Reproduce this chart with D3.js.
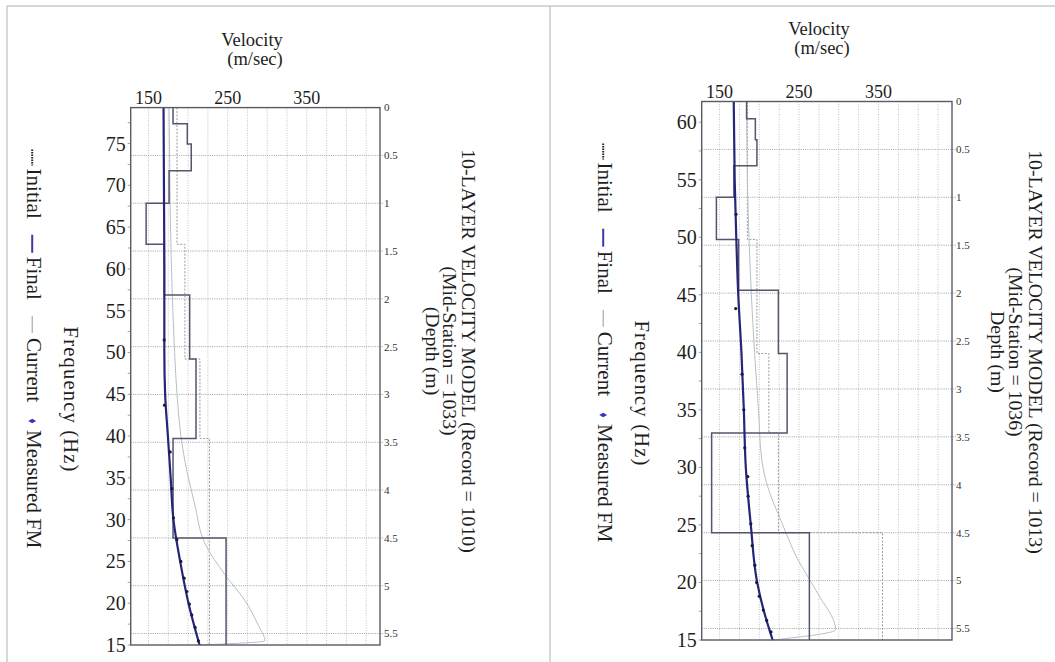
<!DOCTYPE html>
<html>
<head>
<meta charset="utf-8">
<script src="https://cdn.jsdelivr.net/npm/d3@7.9.0/dist/d3.min.js"></script>
<style>
  body { margin: 0; background: #fff; }
  svg, svg text { font-family: "Liberation Serif", "Times New Roman", Times, serif; }
</style>
</head>
<body>
<svg id="chart" width="1055" height="662" font-family="Liberation Serif, Times New Roman, serif"></svg>
<script>
// ---- Record 1010 (left panel) ----
const leftLayerTop = [0, 0.17, 0.38, 0.66, 1.0, 1.43, 1.96, 2.63, 3.46, 4.5];
const leftFinalVs = [181, 199, 204, 176, 147, 170, 202, 210, 181, 248];
const leftInitialVs = [186, 186, 186, 186, 186, 196, 196, 215, 227, 227];
const leftCurveFreq = [79.3, 70, 60, 55, 50, 45, 40, 35, 30, 25, 20, 15];
const leftFinalVel = [169, 169.5, 170, 170, 170, 171, 174.5, 178, 181.5, 190, 200.5, 214.5];
const leftCurrentFreq = [79.3, 70, 60, 50, 45, 40, 37, 32, 27, 23.5, 20.3, 17.5, 15.5, 15];
const leftCurrentVel = [176, 177, 179, 183, 186, 191, 196, 208, 222, 246, 272, 288, 297, 215];
const leftMeasFreq = [51.5, 43.7, 38.1, 33.7, 30.2, 27.6, 25, 23, 21.4, 19.9, 18.6, 17.1, 15.5];
const leftMeasVel = [169.8, 170.2, 177.4, 179.5, 181.5, 185.8, 190.9, 195, 198.4, 201.7, 204.7, 208.9, 213];

// ---- Record 1013 (right panel) ----
const rightLayerTop = [0, 0.18, 0.40, 0.67, 1.0, 1.44, 1.97, 2.63, 3.46, 4.5];
const rightFinalVs = [184, 195, 197, 168, 146, 174, 224, 235, 140, 263];
const rightInitialVs = [185, 185, 185, 185, 185, 197, 197, 212, 224, 355];
const rightCurveFreq = [61.8, 55, 50, 45, 40, 35, 30, 25, 20, 17.5, 15];
const rightFinalVel = [167.8, 169, 171, 173.5, 177.5, 180.5, 183, 189.3, 197.3, 205.8, 216.8];
const rightCurrentFreq = [61.8, 55, 50, 45, 40, 35, 30.7, 27.8, 25.6, 22.2, 19.1, 15.9, 15];
const rightCurrentVel = [184, 185, 187, 190, 194, 199, 203, 213, 226, 247, 273, 296, 217];
const rightMeasFreq = [52, 43.8, 38.1, 35, 31.7, 29.2, 27.5, 25.1, 23.2, 21.5, 20, 18.8, 17.6, 16.7, 15.7];
const rightMeasVel = [170.7, 170.3, 178.3, 180.5, 181.7, 185.5, 185.9, 189.3, 191, 194.4, 196.6, 199.9, 205, 209.3, 214.7];

// ---- shared axis values ----
const velTickLabels = [150, 250, 350];
const velGrid = d3.range(150, 426, 25);
const depthTicks = d3.range(0, 5.51, 0.5);
const legendNames = ["Initial", "Final", "Current", "Measured FM"];

const FONT = "Liberation Serif, Times New Roman, serif";
const svg = d3.select("#chart");

// page frame and separator
svg.append("path")
    .attr("d", "M7,662V6H1055M550,6V662")
    .attr("fill", "none")
    .attr("stroke", "#b0b0b0")
    .attr("stroke-width", 1);

function stepPoints(tops, vs, maxDepth) {
    let pts = [];
    vs.forEach((v, i) => {
        let bottom = i + 1 < tops.length ? tops[i + 1] : maxDepth;
        pts.push([v, tops[i]], [v, bottom]);
    });
    return pts;
}

function addText(g, size) {
    return g.append("text")
        .attr("font-family", FONT)
        .attr("font-size", size)
        .attr("fill", "#1e1e1e");
}

function drawPanel(p) {
    const g = svg.append("g");
    const maxDepth = 5.62;

    const x = d3.scaleLinear().domain([127.5, 442.5]).range([p.x0, p.x1]);
    const yF = d3.scaleLinear().domain([15, p.fTop]).range([p.y1, p.y0]);
    const yD = d3.scaleLinear().domain([0, maxDepth]).range([p.y0, p.y1]);

    // vertical velocity grid
    g.selectAll(".vgrid")
        .data(velGrid)
        .enter()
        .append("line")
        .attr("x1", d => x(d)).attr("x2", d => x(d))
        .attr("y1", p.y0).attr("y2", p.y1)
        .attr("stroke", "#b4b4b4")
        .attr("stroke-width", 0.8)
        .attr("stroke-dasharray", "1,1.5");

    // horizontal depth grid, running out to the right labels
    g.selectAll(".hgrid")
        .data(depthTicks.filter(d => d > 0))
        .enter()
        .append("line")
        .attr("x1", p.x0).attr("x2", p.x1 + 4)
        .attr("y1", d => yD(d)).attr("y2", d => yD(d))
        .attr("stroke", "#8a8a8a")
        .attr("stroke-width", 0.8)
        .attr("stroke-dasharray", "1,1.2");

    // depth labels (right)
    depthTicks.forEach(d => {
        addText(g, 11)
            .attr("x", p.x1 + 4)
            .attr("y", yD(d))
            .attr("dy", "0.35em")
            .attr("fill", "#333")
            .text(d3.format("~g")(d));
    });

    // frequency minor ticks and labels (left)
    const fTicks = d3.range(15, p.fTop, 2.5);
    g.selectAll(".ftick")
        .data(fTicks)
        .enter()
        .append("line")
        .attr("x1", p.x0 - 3).attr("x2", p.x0)
        .attr("y1", d => yF(d)).attr("y2", d => yF(d))
        .attr("stroke", "#888")
        .attr("stroke-width", 0.8);

    fTicks.filter(d => d % 5 === 0).forEach(d => {
        addText(g, 20)
            .attr("x", p.x0 - 5)
            .attr("y", yF(d))
            .attr("dy", "0.35em")
            .attr("text-anchor", "end")
            .text(d);
    });

    // velocity labels (top)
    velTickLabels.forEach(d => {
        addText(g, 18)
            .attr("x", x(d))
            .attr("y", p.y0 - 4)
            .attr("text-anchor", "middle")
            .text(d);
    });

    addText(g, 18.5)
        .attr("x", p.velTitleX).attr("y", p.velTitleY)
        .attr("text-anchor", "middle")
        .text("Velocity");
    addText(g, 18.5)
        .attr("x", p.velTitleX + 3).attr("y", p.velTitleY + 19)
        .attr("text-anchor", "middle")
        .text("(m/sec)");

    // initial model (dotted step)
    const stepLine = d3.line().x(d => x(d[0])).y(d => yD(d[1]));
    g.append("path")
        .attr("d", stepLine(stepPoints(p.layerTop, p.initialVs, maxDepth)))
        .attr("fill", "none")
        .attr("stroke", "#9a9a9a")
        .attr("stroke-width", 1)
        .attr("stroke-dasharray", "2,1.5");

    // current dispersion curve
    const curve = d3.line()
        .x(d => x(d[1]))
        .y(d => yF(d[0]))
        .curve(d3.curveMonotoneY);
    g.append("path")
        .attr("d", curve(d3.zip(p.currentFreq, p.currentVel)))
        .attr("fill", "none")
        .attr("stroke", "#b2c2ca")
        .attr("stroke-width", 1);

    // final model (step)
    g.append("path")
        .attr("d", stepLine(stepPoints(p.layerTop, p.finalVs, maxDepth)))
        .attr("fill", "none")
        .attr("stroke", "#55556e")
        .attr("stroke-width", 1.5);

    // final dispersion curve
    g.append("path")
        .attr("d", curve(d3.zip(p.curveFreq, p.finalVel)))
        .attr("fill", "none")
        .attr("stroke", "#25257a")
        .attr("stroke-width", 2.2);

    // measured points
    g.selectAll(".meas")
        .data(d3.zip(p.measFreq, p.measVel))
        .enter()
        .append("circle")
        .attr("cx", d => x(d[1]))
        .attr("cy", d => yF(d[0]))
        .attr("r", 1.6)
        .attr("fill", "#1a1a40");

    // plot frame
    g.append("rect")
        .attr("x", p.x0).attr("y", p.y0)
        .attr("width", p.x1 - p.x0).attr("height", p.y1 - p.y0)
        .attr("fill", "none")
        .attr("stroke", "#5a5a66")
        .attr("stroke-width", 1.4);

    // frequency axis title (rotated)
    addText(g, 20.5)
        .attr("transform", `translate(${p.x0 - 67},${p.y0 + 292}) rotate(90)`)
        .attr("text-anchor", "middle")
        .attr("letter-spacing", 1.2)
        .text("Frequency (Hz)");

    // chart title (rotated, three lines)
    p.titleLines.forEach((t, i) => {
        addText(g, 19.8)
            .attr("transform", `translate(${p.titleX[i]},${p.titleY}) rotate(90)`)
            .attr("text-anchor", "middle")
            .text(t);
    });

    // legend (rotated)
    const lg = g.append("g")
        .attr("transform", `translate(${p.x0 - 104},${p.y0 + 42}) rotate(90)`);
    let pos = 0;
    legendNames.forEach((name, i) => {
        if (i === 0) {
            lg.append("line")
                .attr("x1", pos).attr("x2", pos + 16)
                .attr("y1", -5.5).attr("y2", -5.5)
                .attr("stroke", "#222").attr("stroke-width", 2)
                .attr("stroke-dasharray", "1.5,1");
            pos += 19;
        } else if (i === 1) {
            lg.append("line")
                .attr("x1", pos).attr("x2", pos + 18)
                .attr("y1", -5.5).attr("y2", -5.5)
                .attr("stroke", "#3a3aa0").attr("stroke-width", 2);
            pos += 22;
        } else if (i === 2) {
            lg.append("line")
                .attr("x1", pos).attr("x2", pos + 17)
                .attr("y1", -5.5).attr("y2", -5.5)
                .attr("stroke", "#999").attr("stroke-width", 1);
            pos += 22;
        } else {
            lg.append("path")
                .attr("d", d3.symbol(d3.symbolDiamond, 18)())
                .attr("transform", `translate(${pos + 3},-5.5)`)
                .attr("fill", "#3535c0");
            pos += 12;
        }
        const t = addText(lg, 21)
            .attr("x", pos).attr("y", 0)
            .text(name);
        pos += t.node().getComputedTextLength() + 16;
    });
}

drawPanel({
    x0: 130.7, x1: 380, y0: 107.6, y1: 645, fTop: 79.3,
    velTitleX: 252, velTitleY: 46,
    layerTop: leftLayerTop, finalVs: leftFinalVs, initialVs: leftInitialVs,
    curveFreq: leftCurveFreq, finalVel: leftFinalVel,
    currentFreq: leftCurrentFreq, currentVel: leftCurrentVel,
    measFreq: leftMeasFreq, measVel: leftMeasVel,
    titleLines: ["10-LAYER VELOCITY MODEL (Record = 1010)", "(Mid-Station = 1033)", "(Depth (m)"],
    titleX: [462, 443, 426], titleY: 351
});

drawPanel({
    x0: 701.7, x1: 952, y0: 101.5, y1: 640, fTop: 61.8,
    velTitleX: 819, velTitleY: 35,
    layerTop: rightLayerTop, finalVs: rightFinalVs, initialVs: rightInitialVs,
    curveFreq: rightCurveFreq, finalVel: rightFinalVel,
    currentFreq: rightCurrentFreq, currentVel: rightCurrentVel,
    measFreq: rightMeasFreq, measVel: rightMeasVel,
    titleLines: ["10-LAYER VELOCITY MODEL (Record = 1013)", "(Mid-Station = 1036)", "Depth (m)"],
    titleX: [1029, 1009, 991], titleY: 352
});
</script>
</body>
</html>
